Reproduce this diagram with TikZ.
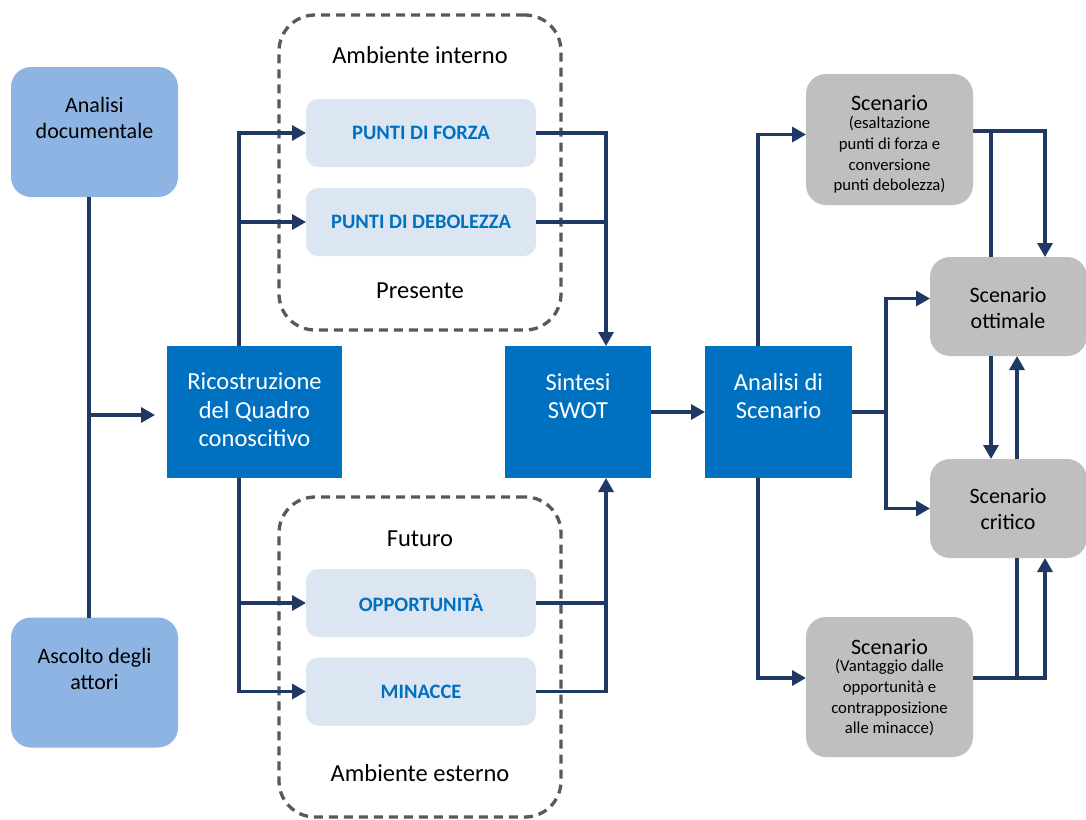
\documentclass[tikz,border=0pt]{standalone}
\usepackage{fontspec}
\setmainfont{Carlito}
\usetikzlibrary{arrows.meta,calc}
\definecolor{lblue}{HTML}{8EB4E3}
\definecolor{dblue}{HTML}{0070C0}
\definecolor{pale}{HTML}{DCE6F2}
\definecolor{gbox}{HTML}{BFBFBF}
\definecolor{navy}{HTML}{1F3864}
\definecolor{dashc}{HTML}{595959}
\begin{document}
\begin{tikzpicture}[x=1pt,y=-1pt,
  box/.style={inner sep=0pt, outer sep=0pt, draw=none},
  lb/.style={box, fill=lblue, rounded corners=20pt, minimum width=167pt, minimum height=130pt},
  db/.style={box, fill=dblue, minimum height=132pt},
  pb/.style={box, fill=pale, rounded corners=12pt, minimum width=230pt, minimum height=68pt},
  gb/.style={box, fill=gbox, rounded corners=20pt},
  dbox/.style={draw=dashc, line width=3.3pt, dash pattern=on 9pt off 6pt, rounded corners=36pt, minimum width=282pt, inner sep=0pt, outer sep=0pt},
  conn/.style={draw=navy, line width=3.3pt},
  arr/.style={conn, -{Triangle[length=14pt,width=15pt]}},
  tmid/.style={align=center, inner sep=0pt, font=\fontsize{22pt}{26.5pt}\selectfont},
  tbig/.style={align=center, inner sep=0pt, font=\fontsize{24.5pt}{28.5pt}\selectfont},
  twhite/.style={tbig, text=white},
  tbold/.style={align=center, inner sep=0pt, text=dblue, font=\fontsize{20.5pt}{24pt}\selectfont\bfseries},
  tsmall/.style={align=center, inner sep=0pt, font=\fontsize{16.7pt}{20.8pt}\selectfont},
]
\useasboundingbox (0,0) rectangle (1086,819);
\fill[white] (0,0) rectangle (1086,819);

% dashed groups
\node[dbox, minimum height=315pt] (din) at (420,172.5) {};
\node[dbox, minimum height=320pt] (dex) at (420,657) {};

% left boxes
\node[lb] (ad) at (94.5,132) {};
\node[lb] (aa) at (94.5,682.5) {};
\node[tmid] (adt) at (94.5,118) {Analisi\\documentale};
\node[tmid] (aat) at (94.5,669) {Ascolto degli\\attori};

% dark blue boxes
\node[db, minimum width=175pt] (rq) at (254.5,412) {};
\node[db, minimum width=146pt] (sw) at (578,412) {};
\node[db, minimum width=147pt] (as) at (778.5,412) {};
\node[twhite] (rqt) at (254.5,410) {Ricostruzione\\del Quadro\\conoscitivo};
\node[twhite] (swt) at (578,396) {Sintesi\\SWOT};
\node[twhite] (ast) at (778.5,396) {Analisi di\\Scenario};

% pale boxes
\node[pb] (pf) at (421,133) {};
\node[pb] (pd) at (421,222) {};
\node[pb] (op) at (421,603) {};
\node[pb] (mi) at (421,691.5) {};
\node[tbold] (pft) at (421,133) {PUNTI DI FORZA};
\node[tbold] (pdt) at (421,222) {PUNTI DI DEBOLEZZA};
\node[tbold] (opt) at (421,603) {OPPORTUNITÀ};
\node[tbold] (mit) at (421,691.5) {MINACCE};

% dashed group labels
\node[tbig] (l1) at (420,55) {Ambiente interno};
\node[tbig] (l2) at (420,291) {Presente};
\node[tbig] (l3) at (420,539) {Futuro};
\node[tbig] (l4) at (420,773) {Ambiente esterno};

% gray boxes
\node[gb, minimum width=167pt, minimum height=131pt] (s1) at (889.5,139.5) {};
\node[gb, minimum width=157pt, minimum height=99pt] (so) at (1008.5,306.5) {};
\node[gb, minimum width=157pt, minimum height=99pt] (sc) at (1008.5,508.5) {};
\node[gb, minimum width=167pt, minimum height=140pt] (s2) at (889.5,687) {};
\node[tmid] (s1h) at (889.5,103) {Scenario};
\node[tsmall, anchor=north] (s1s) at (889.5,116) {(esaltazione\\punti di forza e\\conversione\\punti debolezza)};
\node[tmid] (sot) at (1008,308) {Scenario\\ottimale};
\node[tmid] (sct) at (1008,509) {Scenario\\critico};
\node[tmid] (s2h) at (889.5,647) {Scenario};
\node[tsmall, anchor=north] (s2s) at (889.5,659) {(Vantaggio dalle\\opportunità e\\contrapposizione\\alle minacce)};

% connectors
\coordinate (j1) at (89,415);
\coordinate (j1e) at (155,415);
\draw[conn] ([xshift=-5.5pt]ad.south) -- ([xshift=-5.5pt]aa.north);
\draw[arr] (j1) -- (j1e);

\coordinate (bx) at (239,0);
\draw[arr] (rq.north -| bx) |- (pf.west);
\draw[arr] (rq.north -| bx) |- (pd.west);
\draw[arr] (rq.south -| bx) |- (op.west);
\draw[arr] (rq.south -| bx) |- (mi.west);

\coordinate (cx) at (606,0);
\draw[arr] (pf.east) -| (sw.north -| cx);
\draw[conn] (pd.east) -- (pd.east -| cx);
\draw[arr] (mi.east) -| (sw.south -| cx);
\draw[conn] (op.east) -- (op.east -| cx);

\draw[arr] (sw.east) -- (as.west);

\coordinate (ex) at (758,0);
\draw[arr] (as.north -| ex) |- ([yshift=5pt]s1.west);
\draw[arr] (as.south -| ex) |- ([yshift=9pt]s2.west);

\coordinate (fx) at (886,0);
\draw[arr] (as.east) -- (as.east -| fx) |- ([yshift=8pt]so.west);
\draw[arr] (as.east -| fx) |- (sc.west);

\coordinate (gx1) at (991,0);
\coordinate (gx2) at (1017,0);
\coordinate (gx3) at (1045,0);
\coordinate (k1) at (991,131);
\coordinate (k2) at (1017,678);
\draw[arr] ([yshift=8.5pt]s1.east) -| (so.north -| gx3);
\draw[conn] (k1) -- (so.north -| k1);
\draw[arr] (so.south -| gx1) -- (sc.north -| gx1);
\draw[arr] (sc.north -| gx2) -- (so.south -| gx2);
\draw[arr] ([yshift=9pt]s2.east) -| (sc.south -| gx3);
\draw[conn] (k2) -- (sc.south -| k2);
\end{tikzpicture}
\end{document}
